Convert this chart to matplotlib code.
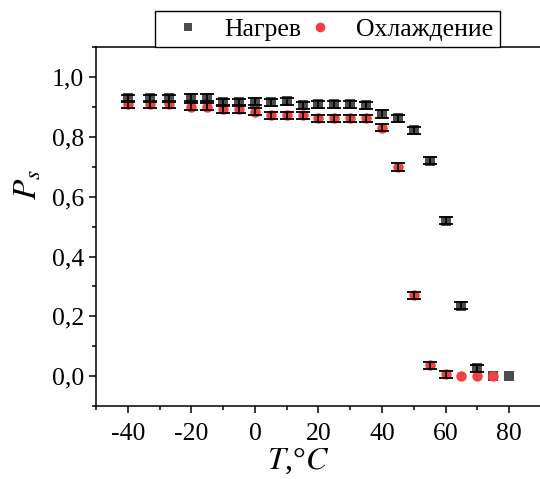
import numpy as np
import matplotlib
matplotlib.use('Agg')
import matplotlib.pyplot as plt
from matplotlib.ticker import MultipleLocator, FuncFormatter
from matplotlib.lines import Line2D

plt.rcParams['font.family'] = ['Liberation Serif', 'DejaVu Serif']
plt.rcParams['mathtext.fontset'] = 'stix'
plt.rcParams['axes.unicode_minus'] = False

# heating (Нагрев)
t_heat = [-40, -33, -27, -20, -15, -10, -5, 0, 5, 10, 15, 20, 25, 30, 35,
          40, 45, 50, 55, 60, 65, 70, 75, 80]
p_heat = [0.928, 0.928, 0.928, 0.931, 0.931, 0.915, 0.915, 0.917, 0.915, 0.919,
          0.905, 0.908, 0.908, 0.908, 0.905, 0.876, 0.861, 0.821, 0.720, 0.519,
          0.236, 0.026, 0.0, 0.0]
e_heat = [0.012] * 22 + [0.0, 0.0]

# cooling (Охлаждение)
t_cool = [-40, -33, -27, -20, -15, -10, -5, 0, 5, 10, 15, 20, 25, 30, 35,
          40, 45, 50, 55, 60, 65, 70, 75]
p_cool = [0.909, 0.909, 0.909, 0.901, 0.901, 0.893, 0.893, 0.884, 0.871, 0.871,
          0.871, 0.861, 0.861, 0.861, 0.861, 0.830, 0.699, 0.270, 0.037, 0.007,
          0.0, 0.0, 0.0]
e_cool = [0.012] * 20 + [0.0, 0.0, 0.0]

gray = '#4d4d4d'
red = '#f04040'

fig = plt.figure(figsize=(5.4, 4.79), dpi=100)
ax = fig.add_axes([0.178, 0.152, 0.853, 0.750])

ax.plot(t_heat, p_heat, 's', color=gray, ms=7, mew=0, zorder=2)
ax.plot(t_cool, p_cool, 'o', color=red, ms=7.5, mew=0, zorder=3)

# error bars only where they exist
for t, p, e in [(t_heat, p_heat, e_heat), (t_cool, p_cool, e_cool)]:
    t, p, e = np.array(t), np.array(p), np.array(e)
    m = e > 0
    ax.errorbar(t[m], p[m], yerr=e[m], fmt='none', ecolor='black',
                elinewidth=1.3, capsize=5, capthick=1.3, zorder=4)

ax.set_xlim(-50, 95)
ax.set_ylim(-0.1, 1.1)
ax.xaxis.set_major_locator(MultipleLocator(20))
ax.xaxis.set_minor_locator(MultipleLocator(10))
ax.yaxis.set_major_locator(MultipleLocator(0.2))
ax.yaxis.set_minor_locator(MultipleLocator(0.1))
ax.xaxis.set_major_formatter(FuncFormatter(lambda v, _: '%d' % round(v)))
ax.yaxis.set_major_formatter(FuncFormatter(lambda v, _: ('%.1f' % v).replace('.', ',')))
ax.tick_params(which='both', direction='out', labelsize=18.5, width=1.1)
ax.tick_params(which='major', length=5)
ax.tick_params(which='minor', length=3)
ax.tick_params(axis='x', pad=7)
for s in ax.spines.values():
    s.set_linewidth(1.1)
ax.spines['right'].set_visible(False)

ax.set_xlabel(r'$T$,°$C$', fontsize=23)
ax.xaxis.set_label_coords(0.44, -0.11)
ax.set_ylabel(r'$P_s$', fontsize=24)
ax.yaxis.set_label_coords(-0.115, 0.616)

handles = [Line2D([], [], ls='none', marker='s', color=gray, ms=6, mew=0),
           Line2D([], [], ls='none', marker='o', color=red, ms=7, mew=0)]
leg = fig.legend(handles, ['Нагрев', 'Охлаждение'], ncol=2, loc='lower left',
                 bbox_to_anchor=(155 / 540, 1 - 47 / 479, 345 / 540, 0),
                 mode='expand', borderaxespad=0, fontsize=18.5, frameon=True,
                 fancybox=False, framealpha=1, edgecolor='black',
                 handlelength=2.1, handletextpad=0.35, borderpad=0.25)
leg.get_frame().set_linewidth(1.0)

fig.savefig('out.png', dpi=100)
